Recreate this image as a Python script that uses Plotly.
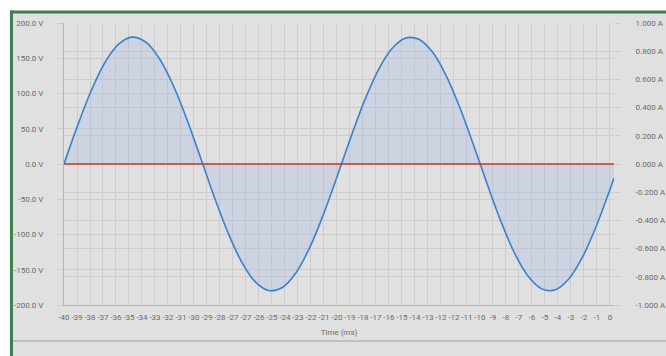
import plotly.graph_objects as go

# ---- data ----
time_ms = [-40, -39, -38, -37, -36, -35, -34, -33, -32, -31, -30, -29, -28, -27, -26,
           -25, -24, -23, -22, -21, -20, -19, -18, -17, -16, -15, -14, -13, -12, -11,
           -10, -9, -8, -7, -6, -5, -4, -3, -2, -1, 0, 0.3]
voltage_v = [0, 54.8, 104.3, 144.0, 170.0, 179.9, 172.8, 149.3, 111.7, 63.4, 9.2,
             -46.0, -96.7, -138.3, -166.8, -179.5, -175.1, -154.2, -118.7, -71.9, -18.3,
             37.0, 88.9, 132.2, 163.1, 178.5, 177.0, 158.7, 125.5, 80.2, 27.4,
             -28.0, -80.7, -125.9, -159.0, -177.1, -178.5, -162.9, -131.9, -88.3, -36.4, -20.0]
current_a = [0.0] * len(time_ms)

x_tick_text = ["-40", "-39", "-38", "-37", "-36", "-35", "-34", "-33", "-32", "-31", "-30",
               "-29", "-28", "-27", "-27", "-26", "-25", "-24", "-23", "-22", "-21", "-20",
               "-19", "-18", "-17", "-16", "-15", "-14", "-13", "-12", "-12", "-11", "-10",
               "-9", "-8", "-7", "-6", "-5", "-4", "-3", "-2", "-1", "0"]
x_tick_vals = [-40 + i * 40 / (len(x_tick_text) - 1) for i in range(len(x_tick_text))]
v_ticks = [-200, -150, -100, -50, 0, 50, 100, 150, 200]
v_tick_text = ["%.1f V" % v for v in v_ticks]
a_ticks = [-1.0, -0.8, -0.6, -0.4, -0.2, 0.0, 0.2, 0.4, 0.6, 0.8, 1.0]
a_tick_text = ["%.3f A" % a for a in a_ticks]

# ---- geometry ----
W, H = 666, 356
L, R, T, B = 64, 52, 23, 51
PW, PH = W - L - R, H - T - B


def xp(px):
    return (px - L) / PW


def yp(py):
    return (H - B - py) / PH


BG = "#e0e0e0"
GRID = "#cdcdcd"
TXT = "#6a6a6a"
FONT = "Roboto"

fig = go.Figure()
fig.add_trace(go.Scatter(
    x=time_ms, y=voltage_v, mode="lines", name="Voltage",
    line=dict(color="#3b80cc", width=1.6, shape="spline"),
    fill="tozeroy", fillcolor="rgba(165,185,225,0.32)",
))
fig.add_trace(go.Scatter(
    x=time_ms, y=current_a, mode="lines", name="Current", yaxis="y2",
    line=dict(color="#c0392b", width=1.6),
))

fig.update_layout(
    width=W, height=H,
    margin=dict(l=L, r=R, t=T, b=B, pad=0, autoexpand=False),
    paper_bgcolor=BG, plot_bgcolor=BG,
    showlegend=False,
    font=dict(family=FONT, size=8, color=TXT),
    xaxis=dict(
        range=[-40, 0.3], tickmode="array", tickvals=x_tick_vals, ticktext=x_tick_text,
        showgrid=True, gridcolor=GRID, gridwidth=1, zeroline=False,
        showline=True, linecolor="#b5b5b5", linewidth=1,
        ticks="", ticklabelstandoff=4, tickangle=0, automargin=False,
        tickfont=dict(family=FONT, size=8, color=TXT),
        title=dict(text="Time (ms)", font=dict(family=FONT, size=8, color=TXT), standoff=8),
    ),
    yaxis=dict(
        range=[-200, 200], tickmode="array", tickvals=v_ticks, ticktext=v_tick_text,
        showgrid=True, gridcolor=GRID, gridwidth=1, zeroline=False,
        showline=True, linecolor="#b5b5b5", linewidth=1, automargin=False,
        ticks="outside", ticklen=6, tickcolor=GRID, ticklabelstandoff=12,
        tickfont=dict(family=FONT, size=8, color=TXT),
    ),
    yaxis2=dict(
        range=[-1, 1], overlaying="y", side="right",
        tickmode="array", tickvals=a_ticks, ticktext=a_tick_text,
        showgrid=True, gridcolor=GRID, gridwidth=1, zeroline=False,
        showline=False, automargin=False,
        ticks="outside", ticklen=6, tickcolor=GRID, ticklabelstandoff=13,
        tickfont=dict(family=FONT, size=8, color=TXT),
    ),
    shapes=[
        dict(type="rect", xref="paper", yref="paper", x0=xp(0), x1=xp(W), y0=yp(11), y1=yp(0),
             fillcolor="white", line=dict(width=0), layer="above"),
        dict(type="rect", xref="paper", yref="paper", x0=xp(0), x1=xp(10), y0=yp(H), y1=yp(0),
             fillcolor="white", line=dict(width=0), layer="above"),
        dict(type="line", xref="paper", yref="paper", x0=xp(10), x1=xp(W), y0=yp(12), y1=yp(12),
             line=dict(color="#3f7f4f", width=3), layer="above"),
        dict(type="line", xref="paper", yref="paper", x0=xp(11.5), x1=xp(11.5), y0=yp(H), y1=yp(10.5),
             line=dict(color="#3f7f4f", width=3), layer="above"),
        dict(type="line", xref="paper", yref="paper", x0=xp(13), x1=xp(W), y0=yp(341), y1=yp(341),
             line=dict(color="#b4b4b4", width=1.5), layer="above"),
    ],
)

fig.write_html(
    "out.html",
    config={"displayModeBar": False},
    post_script="document.body.style.margin='0';document.body.style.overflow='hidden';",
)
